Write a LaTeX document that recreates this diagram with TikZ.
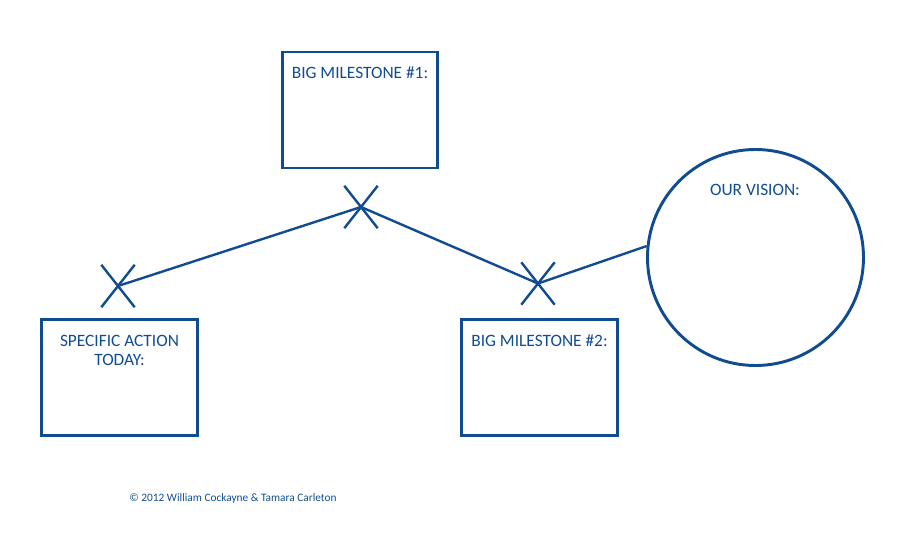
\documentclass[tikz,border=0pt]{standalone}
\usepackage{fontspec}
\setmainfont{Carlito}
\usepackage{tikz}
\usetikzlibrary{shapes.misc,positioning}
\definecolor{inkblue}{RGB}{17,76,145}

\begin{document}
\begin{tikzpicture}[x=0.75pt,y=-0.75pt,
                box/.style={draw=inkblue,line width=2.2pt,rectangle,minimum width=116.6pt,minimum height=87pt,inner sep=0pt},
                crossmark/.style={draw=inkblue,line width=1.8pt,cross out,minimum width=23.25pt,minimum height=30pt,inner sep=0pt},
                tag/.style={text=inkblue,font=\fontsize{13}{14.5}\selectfont,align=center,inner sep=0pt},
                link/.style={inkblue,line width=1.8pt}]
                \useasboundingbox (0,0) rectangle (904,542);

                \node[box] (milestone1) at (360,110) {};
                \node[box] (action) at (119.5,377.5) {};
                \node[box] (milestone2) at (539.5,377.5) {};
                \node[draw=inkblue,line width=2.2pt,circle,minimum size=162pt,inner sep=0pt] (vision) at (755.5,257.5) {};

                \node[tag] (milestone1text) at (360,73) {BIG MILESTONE \#1:};
                \node[tag] (actiontext) at (119.5,350.5) {SPECIFIC ACTION\\TODAY:};
                \node[tag] (milestone2text) at (539.5,341) {BIG MILESTONE \#2:};
                \node[tag] (visiontext) at (755,190) {OUR VISION:};

                \node[crossmark] (xaction) at (118,286) {};
                \node[crossmark] (xmilestone1) at (361,207) {};
                \node[crossmark] (xmilestone2) at (538,283.5) {};

                \draw[link] (xaction.center) -- (xmilestone1.center);
                \draw[link] (xmilestone1.center) -- (xmilestone2.center);
                \draw[link] (xmilestone2.center) -- (vision.174);

                \node[text=inkblue,font=\fontsize{8.5}{10}\selectfont] (copyright) at (233,498) {© 2012 William Cockayne \& Tamara Carleton};
\end{tikzpicture}
\end{document}
